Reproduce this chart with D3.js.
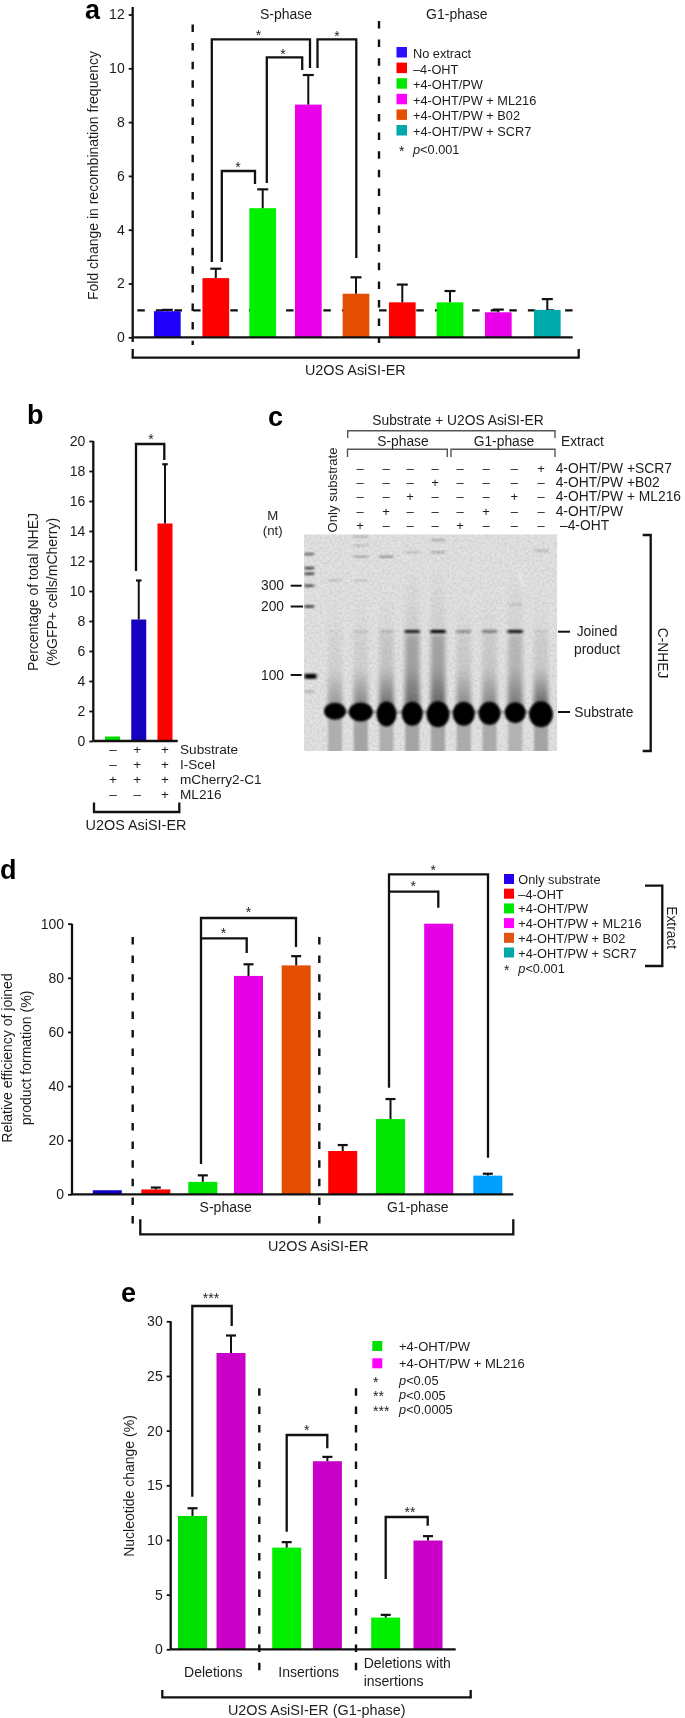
<!DOCTYPE html>
<html><head><meta charset="utf-8">
<style>html,body{margin:0;padding:0;background:#fff}svg{display:block;filter:blur(0.35px)}text{font-family:"Liberation Sans",Arial,sans-serif;fill:#1c1c1c}</style>
<script src="https://cdn.jsdelivr.net/npm/d3@7"></script>
</head><body><svg id="c" width="685" height="1718"></svg>
<script>
// ---------- data ----------
const aValues=[0.97,2.2,4.8,8.65,1.62,1.3,1.3,0.93,1.02];
const aTops=[1.02,2.55,5.5,9.75,2.23,1.96,1.72,1.03,1.42];
const aColors=["#2000f8","#ff0000","#00f000","#ea00ea","#e34e00","#ff0000","#00f000","#ea00ea","#00a9a9"];
const aLegend=["No extract","–4-OHT","+4-OHT/PW","+4-OHT/PW + ML216","+4-OHT/PW + B02","+4-OHT/PW + SCR7"];
const aLegendColors=["#2a10ff","#ff0000","#00e800","#ff00ff","#e34e00","#00a9a9"];
const aTicks=[0,2,4,6,8,10,12];

const bValues=[0.3,8.1,14.5];
const bTops=[null,10.7,18.45];
const bColors=["#00e000","#1500c0","#ff0000"];
const bTicks=[0,2,4,6,8,10,12,14,16,18,20];
const bRowNames=["Substrate","I-SceI","mCherry2-C1","ML216"];
const bRows=[["–","+","+"],["–","+","+"],["+","+","+"],["–","–","+"]];

const cLaneSigns=[[0,0,0,0,0,0,0,1],[0,0,0,1,0,0,0,0],[0,0,1,0,0,0,1,0],[0,1,0,0,0,1,0,0],[1,0,0,0,1,0,0,0]];
const cRowNames=["4-OHT/PW +SCR7","4-OHT/PW +B02","4-OHT/PW + ML216","4-OHT/PW","–4-OHT"];
const gelLanes=[0,1,2,3,4,5,6,7,8];
const gelSubstrateHeight=[17,19,25,24,26,24,23,21,26];
const gelSubstrateWidth=[21,23,19,20,22,21,21,20,23];
const gelJoined=[0.03,0.1,0.14,0.85,1,0.32,0.4,0.9,0.08];
const gelSmearLow=[0.32,0.42,0.52,0.4,0.42,0.36,0.38,0.38,0.6];
const gelSmearHigh=[0.02,0.03,0.07,0.2,0.2,0.05,0.06,0.12,0.05];
const gelTail=[0.22,0.27,0.22,0.27,0.27,0.24,0.24,0.2,0.27];
const markerNt=[480,400,368,300,200,100,82];
const markerStrength=[0.55,0.75,0.75,0.7,0.8,1,0.2];
const gelFaint=[[1,465,0.35],[2,465,0.45],[1,580,0.25],[1,530,0.2],[4,560,0.3],[4,490,0.3],[3,490,0.2],[8,500,0.25],[0,330,0.2],[1,330,0.15],[7,210,0.15]];
const sizeLabels=[300,200,100];

const dValues=[1.5,1.8,4.6,80.7,84.6,16,27.8,100,6.9];
const dTops=[null,2.5,7,85,88,18.2,35.2,null,7.6];
const dColors=["#1200cc","#ff0000","#00e600","#e600e6","#e34e00","#ff0000","#00e600","#e600e6","#00a0ff"];
const dLegend=["Only substrate","–4-OHT","+4-OHT/PW","+4-OHT/PW + ML216","+4-OHT/PW + B02","+4-OHT/PW + SCR7"];
const dLegendColors=["#2200ee","#ff0000","#00e800","#ff00ff","#dd5511","#00a8a8"];
const dTicks=[0,20,40,60,80,100];

const eBars=["del-","del+","ins-","ins+","both-","both+"];
const eValues=[12.2,27.1,9.3,17.2,2.9,9.95];
const eTops=[12.9,28.7,9.8,17.6,3.15,10.35];
const eColors=["#00e000","#c800c8","#00f000","#c800c8","#00f000","#c800c8"];
const eTicks=[0,5,10,15,20,25,30];

// ---------- helpers ----------
const svg=d3.select("#c");
const defs=svg.append("defs");
const BLK="#111";
function T(x,y,s,o={}){
  const t=svg.append("text").attr("x",x).attr("y",y).attr("dominant-baseline","central")
    .attr("font-size",o.size||14).attr("text-anchor",o.anchor||"start").text(s);
  if(o.rot!==undefined)t.attr("transform",`rotate(${o.rot},${x},${y})`);
  if(o.bold)t.attr("font-weight","bold").style("fill","#000");
  if(o.italic)t.attr("font-style","italic");
  if(o.fill)t.style("fill",o.fill);
  return t;
}
function star(x,y,s="*",size=14){
  return svg.append("text").attr("x",x).attr("y",y+size*0.47).attr("font-size",size).attr("text-anchor","middle").text(s);
}
function P(pts,o={}){
  svg.append("path").attr("d",d3.line()(pts)).attr("fill","none").attr("stroke",o.color||BLK)
    .attr("stroke-width",o.w||2.3).attr("stroke-dasharray",o.dash||null);
}
function yAxis(scale,ticks,x,top,bottom,size){
  const g=svg.append("g").attr("transform",`translate(${x},0)`)
    .call(d3.axisLeft(scale).tickValues(ticks).tickSize(4).tickSizeOuter(0).tickPadding(4));
  g.select(".domain").remove();
  g.selectAll(".tick line").attr("stroke",BLK).attr("stroke-width",1.8);
  g.selectAll(".tick text").attr("font-size",size||14).attr("font-family",'"Liberation Sans",Arial,sans-serif').style("fill","#1c1c1c");
  P([[x,top],[x,bottom]]);
}
function bars(xf,y,vals,tops,colors,w,capW){
  const base=y(0);
  svg.append("g").selectAll("rect").data(vals).join("rect")
    .attr("x",(d,i)=>xf(i)-w/2).attr("width",w)
    .attr("y",d=>y(d)).attr("height",d=>base-y(d)).attr("fill",(d,i)=>colors[i]);
  tops.forEach((t,i)=>{ if(t===null)return;
    P([[xf(i),y(vals[i])],[xf(i),y(t)]],{w:2});
    P([[xf(i)-capW/2,y(t)],[xf(i)+capW/2,y(t)]],{w:2.2});
  });
}
const DASH="7.5,11.1";

// ---------- panel a ----------
const aX=d3.scaleOrdinal().domain(d3.range(9)).range([167.3,215.8,262.7,308.3,356,402.3,450,498.3,547.3]);
const aY=d3.scaleLinear().domain([0,12]).range([337.3,14.5]);
T(85,9.5,"a",{size:27,bold:true});
P([[137.3,aY(1)],[573.3,aY(1)]],{dash:DASH,w:2.1});
P([[192.7,24.5],[192.7,345]],{dash:DASH,w:2.4});
P([[379,21],[379,343]],{dash:DASH,w:2.4});
bars(aX,aY,aValues,aTops,aColors,26.7,11);
yAxis(aY,aTicks,132.7,7,342);
P([[132.7,aY(0)],[572.7,aY(0)]]);
T(92.6,175.5,"Fold change in recombination frequency",{size:14,anchor:"middle",rot:-90});
T(286,14,"S-phase",{size:14,anchor:"middle"});
T(456.8,14,"G1-phase",{size:14,anchor:"middle"});
[[[211.8,262],[211.8,39.3],[310,39.3],[310,68]],
 [[221.8,262],[221.8,171],[255,171],[255,184]],
 [[266.8,183],[266.8,57.3],[302.2,57.3],[302.2,70]],
 [[317.5,68],[317.5,39.3],[356.3,39.3],[356.3,258]]].forEach(p=>P(p));
[[258.5,33],[283,52],[238,165],[337,34]].forEach(p=>star(p[0],p[1]));
const aLY=d3.scalePoint().domain(aLegend).range([52.5,130.5]);
aLegend.forEach((s,i)=>{
  svg.append("rect").attr("x",396.5).attr("y",aLY(s)-5.5).attr("width",10.5).attr("height",10.5).attr("fill",aLegendColors[i]);
  T(413,aLY(s)+1,s,{size:12.75});
});
star(401.7,149);
T(413,149,"p",{size:12.75,italic:true}).append("tspan").attr("font-style","normal").text("<0.001");
P([[132.7,349],[132.7,357.7],[578.7,357.7],[578.7,349]]);
T(355.3,370.3,"U2OS AsiSI-ER",{size:14.4,anchor:"middle"});

// ---------- panel b ----------
const bCols=d3.scaleLinear().domain([0,2]).range([112.5,165]);
const bY=d3.scaleLinear().domain([0,20]).range([741,441]);
T(27,415,"b",{size:27,bold:true});
bars(bCols,bY,bValues,bTops,bColors,15,5.5);
yAxis(bY,bTicks,93.3,441,741);
P([[93.3,741],[177.7,741]]);
T(33,592,"Percentage of total NHEJ",{size:14,anchor:"middle",rot:-90});
T(51.5,592,"(%GFP+ cells/mCherry)",{size:14,anchor:"middle",rot:-90});
P([[136,571],[136,444],[164.3,444],[164.3,460]]);
star(151,437);
const bRowY=d3.scalePoint().domain(bRowNames).range([749.5,794.5]);
const bSignX=d3.scaleOrdinal().domain([0,1,2]).range([113,137.3,165]);
bRowNames.forEach((n,r)=>{
  bRows[r].forEach((s,c)=>T(bSignX(c),bRowY(n),s,{size:13.5,anchor:"middle"}));
  T(180,bRowY(n),n,{size:13.6});
});
P([[94,802.5],[94,812],[179.3,812],[179.3,802.5]]);
T(136,825,"U2OS AsiSI-ER",{size:14.4,anchor:"middle"});

// ---------- panel c ----------
T(268,417,"c",{size:27,bold:true});
T(458,420,"Substrate + U2OS AsiSI-ER",{size:13.8,anchor:"middle"});
const GR="#555";
P([[347.7,438],[347.7,430.7],[555,430.7],[555,438]],{w:1.4,color:GR});
P([[347.5,457],[347.5,449.3],[447.3,449.3],[447.3,457]],{w:1.4,color:GR});
P([[451,457],[451,449.3],[555,449.3],[555,457]],{w:1.4,color:GR});
T(403,441,"S-phase",{size:13.8,anchor:"middle"});
T(504,441,"G1-phase",{size:13.8,anchor:"middle"});
T(561,441,"Extract",{size:13.8});
const cRowY=d3.scalePoint().domain(cRowNames).range([468.3,525.3]);
const cColX=d3.scaleOrdinal().domain(d3.range(8)).range([360,386,410,435,460,486,514.3,541]);
cRowNames.forEach((n,r)=>{
  cLaneSigns[r].forEach((s,c)=>T(cColX(c),cRowY(n),s?"+":"–",{size:13,anchor:"middle"}));
  T(r===4?560:555.7,cRowY(n),n,{size:13.8});
});
T(332.5,532.5,"Only substrate",{size:13.2,rot:-90});
T(272.7,515,"M",{size:13.2,anchor:"middle"});
T(272.7,530,"(nt)",{size:13.2,anchor:"middle"});

// gel
const gelL=304,gelR=557.3,gelT=534.3,gelB=751;
const laneX=d3.scaleLinear().domain([0,8]).range([335,541]);
const ntY=d3.scaleLinear().domain([600,300,200,150,100,60]).range([533,585.7,606.5,631.5,675,712]);
const gel=svg.append("g");
defs.append("clipPath").attr("id","gelclip").append("rect").attr("x",gelL).attr("y",gelT).attr("width",gelR-gelL).attr("height",gelB-gelT);
const blur=(id,sx,sy)=>defs.append("filter").attr("id",id).attr("x","-50%").attr("y","-50%").attr("width","200%").attr("height","200%")
  .append("feGaussianBlur").attr("stdDeviation",`${sx} ${sy}`);
blur("b1",1.2,0.8);blur("b2",2,5);blur("b3",2,2);blur("b4",1.4,0.9);
const fadeUp=defs.append("linearGradient").attr("id","fadeUp").attr("x1",0).attr("x2",0).attr("y1",1).attr("y2",0);
fadeUp.append("stop").attr("offset",0).attr("stop-color","#000").attr("stop-opacity",1);
fadeUp.append("stop").attr("offset",1).attr("stop-color","#000").attr("stop-opacity",0);
const gc=gel.append("g").attr("clip-path","url(#gelclip)");
gc.append("rect").attr("x",gelL).attr("y",gelT).attr("width",gelR-gelL).attr("height",gelB-gelT).attr("fill","#e2e2e4");
const grainDefs=defs.append("filter").attr("id","grain").attr("x",0).attr("y",0).attr("width","100%").attr("height","100%");
grainDefs.append("feTurbulence").attr("type","fractalNoise").attr("baseFrequency",0.4).attr("numOctaves",2).attr("seed",7);
grainDefs.append("feColorMatrix").attr("type","matrix").attr("values","0 0 0 0 0.35  0 0 0 0 0.35  0 0 0 0 0.35  1.6 0 0 0 -0.62");
// upper long smear
gc.append("g").selectAll("rect").data(gelLanes).join("rect").attr("filter","url(#b2)")
  .attr("x",d=>laneX(d)-7).attr("width",14).attr("y",d=>gelT+(d===3||d===4||d===7?30:50)).attr("height",d=>ntY(60)-gelT-(d===3||d===4||d===7?30:50))
  .attr("fill","url(#fadeUp)").attr("opacity",d=>gelSmearHigh[d]*0.6+0.04);
// smear just above the substrate
gc.append("g").selectAll("rect").data(gelLanes).join("rect").attr("filter","url(#b2)")
  .attr("x",d=>laneX(d)-7).attr("width",14).attr("y",ntY(100)-6).attr("height",ntY(60)-ntY(100)+6)
  .attr("fill","url(#fadeUp)").attr("opacity",d=>gelSmearLow[d]);
// smear between joined band and substrate
gc.append("g").selectAll("rect").data(gelLanes).join("rect").attr("filter","url(#b3)")
  .attr("x",d=>laneX(d)-7).attr("width",14).attr("y",ntY(150)+3).attr("height",ntY(60)-ntY(150)-3)
  .attr("fill","#000").attr("opacity",d=>gelSmearHigh[d]);
// tail below the substrate
gc.append("g").selectAll("rect").data(gelLanes).join("rect").attr("filter","url(#b1)")
  .attr("x",d=>laneX(d)-7).attr("width",14).attr("y",ntY(60)).attr("height",gelB-ntY(60)+5)
  .attr("fill","#000").attr("opacity",d=>gelTail[d]);
// film grain, under the darkest marks
gc.append("rect").attr("x",gelL).attr("y",gelT).attr("width",gelR-gelL).attr("height",gelB-gelT).attr("filter","url(#grain)").attr("opacity",0.4);
// faint upper bands
gc.append("g").selectAll("rect").data(gelFaint).join("rect").attr("filter","url(#b4)")
  .attr("x",d=>laneX(d[0])-7).attr("width",14).attr("y",d=>ntY(d[1])-1).attr("height",2)
  .attr("fill","#222").attr("opacity",d=>d[2]);
// joined product bands
gc.append("g").selectAll("rect").data(gelLanes).join("rect").attr("filter","url(#b4)")
  .attr("x",d=>laneX(d)-7.5).attr("width",15).attr("y",ntY(150)-1.6).attr("height",3.2)
  .attr("fill","#000").attr("opacity",d=>gelJoined[d]);
// faint link between substrate spots
gc.append("rect").attr("x",laneX(0)).attr("width",laneX(8)-laneX(0)).attr("y",ntY(60)-1.5).attr("height",3).attr("fill","#000").attr("opacity",0.3).attr("filter","url(#b4)");
// substrate spots
gc.append("g").selectAll("ellipse").data(gelLanes).join("ellipse").attr("filter","url(#b1)")
  .attr("cx",d=>laneX(d)).attr("cy",d=>ntY(60)+(gelSubstrateHeight[d]-19)/3)
  .attr("rx",d=>gelSubstrateWidth[d]/2+0.5).attr("ry",d=>gelSubstrateHeight[d]/2).attr("fill","#000");
// size-marker lane
gc.append("g").selectAll("rect").data(markerNt).join("rect").attr("filter","url(#b4)")
  .attr("x",gelL+0.5).attr("width",(d,i)=>i===5?12:9.5).attr("y",d=>ntY(d)-1.2).attr("height",(d,i)=>i===5?5:2.4)
  .attr("fill","#000").attr("opacity",(d,i)=>markerStrength[i]);
gc.append("line").attr("x1",519).attr("y1",570).attr("x2",523).attr("y2",587).attr("stroke","#fff").attr("stroke-width",1.2).attr("opacity",0.8).attr("filter","url(#b4)");

sizeLabels.forEach(n=>{
  T(284,ntY(n),n,{size:13.8,anchor:"end"});
  P([[290.7,ntY(n)],[n===200?303:301.7,ntY(n)]],{w:2});
});
P([[558,631.7],[570,631.7]],{w:2});
P([[558,712],[570,712]],{w:2});
T(597,631.7,"Joined",{size:13.8,anchor:"middle"});
T(597,649,"product",{size:13.8,anchor:"middle"});
T(574.3,712,"Substrate",{size:13.8});
P([[642.7,535],[650.7,535],[650.7,751],[642.7,751]]);
T(662.5,653,"C-NHEJ",{size:13.8,anchor:"middle",rot:90});

// ---------- panel d ----------
const dX=d3.scaleOrdinal().domain(d3.range(9)).range([107.3,155.8,202.8,248.5,296.2,342.7,390.5,438.7,487.8]);
const dY=d3.scaleLinear().domain([0,100]).range([1194.3,923.7]);
T(0,870,"d",{size:27,bold:true});
P([[132.7,937],[132.7,1224]],{dash:DASH,w:2.4});
P([[319.3,937],[319.3,1224]],{dash:DASH,w:2.4});
bars(dX,dY,dValues,dTops,dColors,29,10);
yAxis(dY,dTicks,72,923.7,1194.3);
P([[72,dY(0)],[513.3,dY(0)]]);
T(6.5,1058,"Relative efficiency of joined",{size:14,anchor:"middle",rot:-90});
T(26.2,1058,"product formation (%)",{size:14,anchor:"middle",rot:-90});
[[[201,1164],[201,938.3],[246.7,938.3],[246.7,953]],
 [[201,938.3],[201,918],[296,918],[296,947]],
 [[389,1087.7],[389,874.3],[488,874.3],[488,1157.7]],
 [[389,891.7],[438.3,891.7],[438.3,907.7]]].forEach(p=>P(p));
[[223.6,931],[248.5,910.7],[413.3,884.3],[433.3,868.3]].forEach(p=>star(p[0],p[1]));
T(225.7,1207.3,"S-phase",{size:14,anchor:"middle"});
T(417.7,1207.3,"G1-phase",{size:14,anchor:"middle"});
P([[140.3,1219.3],[140.3,1234.3],[513.3,1234.3],[513.3,1219.3]]);
T(318.3,1246.3,"U2OS AsiSI-ER",{size:14.4,anchor:"middle"});
const dLY=d3.scalePoint().domain(dLegend).range([879,952.5]);
dLegend.forEach((s,i)=>{
  svg.append("rect").attr("x",504).attr("y",dLY(s)-5).attr("width",10).attr("height",10).attr("fill",dLegendColors[i]);
  T(518.3,dLY(s)+0.5,s,{size:12.75});
});
star(506.7,968.3);
T(518.3,968.3,"p",{size:12.75,italic:true}).append("tspan").attr("font-style","normal").text("<0.001");
P([[645,885.7],[662.3,885.7],[662.3,966],[645,966]]);
T(671.7,927.7,"Extract",{size:13.8,anchor:"middle",rot:90});

// ---------- panel e ----------
const eX=d3.scaleOrdinal().domain(d3.range(6)).range([192.5,231,286.7,327.4,385.7,428]);
const eY=d3.scaleLinear().domain([0,30]).range([1649.3,1321.3]);
T(121,1293,"e",{size:27,bold:true});
P([[259.3,1388.3],[259.3,1673.3]],{dash:"7.5,10.8",w:2.4});
P([[356,1388.3],[356,1673.3]],{dash:"7.5,10.8",w:2.4});
bars(eX,eY,eValues,eTops,eColors,29,10);
yAxis(eY,eTicks,170.7,1321.3,1649.3);
P([[170.7,eY(0)],[455.7,eY(0)]]);
T(129,1486,"Nucleotide change (%)",{size:14,anchor:"middle",rot:-90});
[[[192.3,1496.7],[192.3,1306],[231.7,1306],[231.7,1326]],
 [[286.7,1531.7],[286.7,1435],[327.3,1435],[327.3,1448.3]],
 [[385.7,1579],[385.7,1517],[427.7,1517],[427.7,1525.7]]].forEach(p=>P(p));
star(211,1296.7,"***");star(306.7,1428,"*");star(410,1510,"**");
T(213.3,1671.7,"Deletions",{size:14,anchor:"middle"});
T(308.7,1671.7,"Insertions",{size:14,anchor:"middle"});
T(363.7,1663.3,"Deletions with",{size:14});
T(363.7,1680.7,"insertions",{size:14});
P([[162.3,1690],[162.3,1697.3],[470.7,1697.3],[470.7,1690]]);
T(316.7,1710,"U2OS AsiSI-ER (G1-phase)",{size:14.4,anchor:"middle"});
[["+4-OHT/PW","#00e000",1346],["+4-OHT/PW + ML216","#ff00ff",1363.3]].forEach(r=>{
  svg.append("rect").attr("x",372.3).attr("y",r[2]-5).attr("width",10).attr("height",10).attr("fill",r[1]);
  T(399,r[2],r[0],{size:13});
});
[["*","<0.05",1380],["**","<0.005",1394.7],["***","<0.0005",1409]].forEach(r=>{
  svg.append("text").attr("x",373).attr("y",r[2]+6.5).attr("font-size",14).text(r[0]);
  T(399,r[2],"p",{size:12.8,italic:true}).append("tspan").attr("font-style","normal").text(r[1]);
});
</script></body></html>
